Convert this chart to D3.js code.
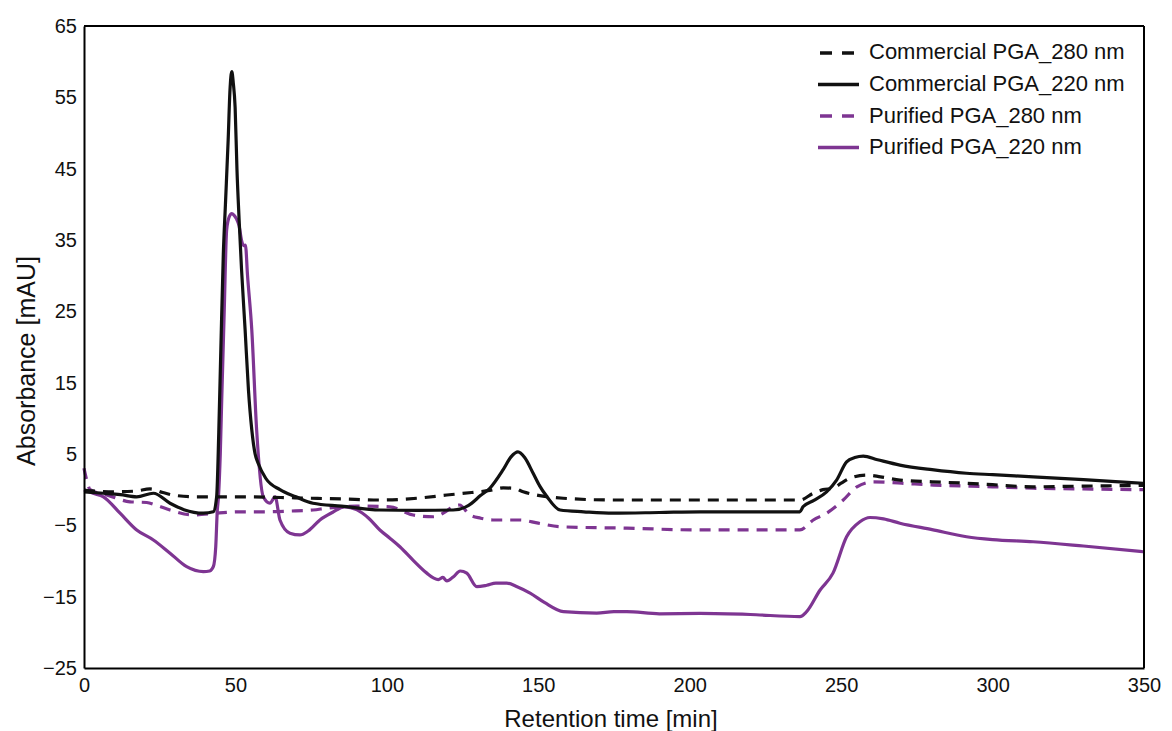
<!DOCTYPE html>
<html><head><meta charset="utf-8">
<script src="https://cdn.jsdelivr.net/npm/d3@7"></script>
<style>body{margin:0;background:#fff}svg{display:block}</style>
</head><body>
<svg id="chart" width="1172" height="731"></svg>
<script>
const xTicks = [0,50,100,150,200,250,300,350];
const yTicks = [-25,-15,-5,5,15,25,35,45,55,65];
const seriesNames = ["Commercial PGA_280 nm","Commercial PGA_220 nm","Purified PGA_280 nm","Purified PGA_220 nm"];

const c280T = [0,10,17,21.8,26,30,37,45,55,65,75,85,97.7,110,119.8,128,134,138.4,142,145,150,158.2,174.7,190,203.4,220,236.4,240.8,244,247.3,250,252.9,258.4,263,269.4,280,291.4,300,313.4,330,349.7];
const c280V = [-0.1,-0.3,-0.2,0.1,-0.4,-0.8,-1.0,-1.0,-1.0,-1.1,-1.2,-1.3,-1.45,-1.2,-0.75,-0.4,-0.1,0.25,0.2,-0.3,-0.8,-1.2,-1.45,-1.45,-1.45,-1.45,-1.45,-0.5,0,0.2,0.9,1.6,2.05,1.8,1.35,1.1,0.9,0.7,0.4,0.5,0.6];

const c220T = [0,6.4,12,17.4,22.9,28.4,33,39.4,42.7,43.8,44.5,45.2,46,46.7,47.6,48.2,48.8,49.3,49.9,50.5,51.2,52,53.2,54.3,55.4,56.5,57.5,60,64.7,70,75.6,85,97.7,110,121.9,127,131,134,138.4,141,143.3,145.5,148.3,150.5,152.9,157.2,165,174.7,190,203.4,220,236.4,237.4,241,245.2,248.5,251.8,254.5,257.3,262,269.4,280,291.4,300,313.4,330,349.7];
const c220V = [-0.3,-0.5,-0.7,-1.0,-0.5,-1.9,-2.8,-3.3,-3.1,-1,8,20,33,40,49,56,58.6,57,53.6,45,38,31,22.4,14,8.4,5,3.7,1.6,0,-1.0,-1.9,-2.3,-2.85,-2.9,-2.85,-2.2,-0.8,0.2,2.8,4.6,5.3,4.5,2.3,0.5,-1.0,-2.85,-3.1,-3.3,-3.2,-3.1,-3.1,-3.1,-2.4,-1.5,-0.3,1.35,3.9,4.5,4.7,4.2,3.45,2.8,2.3,2.1,1.8,1.4,0.9];

const p280T = [0,0.8,2,8,15.2,20.7,24,28.4,36.1,43.8,51.5,60,68,75.6,80,84.5,90,101,108.7,115.3,119,121,124,127.4,131,135,144,150,157.2,179.3,203.4,220,236.4,240.8,245.2,250.7,255.2,260.7,270,280.5,300,313.4,330,349.7];
const p280V = [3.0,1.5,0,-0.8,-1.7,-1.8,-2.2,-2.85,-3.55,-3.3,-3.1,-3.1,-3.0,-2.85,-2.6,-2.4,-2.3,-2.4,-3.55,-3.8,-3.2,-2.6,-2.15,-3.55,-4.0,-4.25,-4.25,-4.7,-5.2,-5.4,-5.65,-5.65,-5.65,-4.25,-3.3,-1.45,0.4,1.1,0.9,0.65,0.4,0.2,0.1,0];

const p220T = [0,3,6.4,11.9,17.4,22.9,28.4,33.9,39.4,41.5,42.7,43.5,44.0,44.4,45.0,45.5,46.3,47.1,48,48.8,49.5,50.3,51.2,52,52.7,53.3,54,55.4,57,59.2,61.4,63.1,64.7,68,71.3,74,77.9,82,86,90,94,97.7,101,104.3,108.7,113.2,115.5,117,118.5,119.8,122,124.2,126.4,129.7,133,136,139.6,143,147.3,152,158.3,169.3,175,179.2,190,203.4,220,236.4,238.6,243,247.3,251.8,256.2,259.5,264,269.4,280,291.4,300,313.4,330,349.7];
const p220V = [0,-0.5,-1.0,-3.3,-5.65,-7.05,-8.9,-10.8,-11.5,-11.4,-10.8,-8,-3,-1,5,13,25,36.4,38.3,38.7,38.5,38,37,35,34.2,34.3,30,22.4,8.4,-1.0,-1.9,-1.0,-4.25,-6.1,-6.35,-5.8,-4.25,-3.2,-2.4,-2.8,-4,-5.65,-6.8,-8.0,-9.9,-11.7,-12.4,-12.6,-12.3,-12.8,-12.2,-11.4,-11.7,-13.6,-13.4,-13.1,-13.1,-13.6,-14.5,-15.8,-17.1,-17.3,-17.1,-17.1,-17.4,-17.35,-17.5,-17.8,-17.1,-14.1,-11.7,-6.6,-4.5,-3.9,-4.1,-4.7,-5.6,-6.6,-7.0,-7.3,-7.9,-8.7];

const BLACK = "#111111", PURPLE = "#7e3592";
const series = [
  {name: seriesNames[0], t: c280T, v: c280V, color: BLACK, dash: "11,8"},
  {name: seriesNames[1], t: c220T, v: c220V, color: BLACK, dash: null},
  {name: seriesNames[2], t: p280T, v: p280V, color: PURPLE, dash: "11,8"},
  {name: seriesNames[3], t: p220T, v: p220V, color: PURPLE, dash: null}
];

const svg = d3.select("#chart");
const L = 84, R = 1144, T = 26, B = 668;
const x = d3.scaleLinear().domain([0,350]).range([L,R]);
const y = d3.scaleLinear().domain([-25,65]).range([B,T]);
const font = "'Liberation Sans', Arial, sans-serif";

const line = d3.line().x(d=>x(d[0])).y(d=>y(d[1])).curve(d3.curveMonotoneX);
const drawOrder = [3,2,0,1];
drawOrder.forEach(i => {
  const s = series[i];
  svg.append("path")
    .datum(s.t.map((t,j)=>[t,s.v[j]]))
    .attr("d", line)
    .attr("fill","none")
    .attr("stroke", s.color)
    .attr("stroke-width", 3.2)
    .attr("stroke-linejoin","round")
    .attr("stroke-dasharray", s.dash);
});

const xAxis = d3.axisBottom(x).tickValues(xTicks).tickSize(0).tickPadding(10);
const yAxis = d3.axisLeft(y).tickValues(yTicks).tickSize(0).tickPadding(7);
const gx = svg.append("g").attr("transform",`translate(0,${B})`).call(xAxis);
const gy = svg.append("g").attr("transform",`translate(${L},0)`).call(yAxis);
[gx,gy].forEach(g=>{
  g.select(".domain").attr("stroke","#000").attr("stroke-width",2);
  g.selectAll("text").attr("font-family",font).attr("font-size",20).attr("fill","#111");
});
svg.append("line").attr("x1",L).attr("x2",R).attr("y1",T).attr("y2",T).attr("stroke","#000").attr("stroke-width",2);
svg.append("line").attr("x1",R).attr("x2",R).attr("y1",T).attr("y2",B).attr("stroke","#000").attr("stroke-width",2);

svg.append("text").attr("x",611).attr("y",727).attr("text-anchor","middle")
  .attr("font-family",font).attr("font-size",24).attr("fill","#111").text("Retention time [min]");
svg.append("text").attr("transform",`translate(35,361) rotate(-90)`).attr("text-anchor","middle")
  .attr("font-family",font).attr("font-size",25).attr("fill","#111").text("Absorbance [mAU]");

const legLineY = [53,84.5,116,147.5];
const legTextY = [59,91,122.5,154];
series.forEach((s,i)=>{
  svg.append("line").attr("x1", s.dash ? 820 : 818).attr("x2",859).attr("y1",legLineY[i]).attr("y2",legLineY[i])
    .attr("stroke",s.color).attr("stroke-width",3.6).attr("stroke-dasharray", s.dash ? "12,10" : null);
  svg.append("text").attr("x",869).attr("y",legTextY[i]).attr("font-family",font).attr("font-size",22)
    .attr("fill","#111").text(s.name);
});
</script>
</body></html>
